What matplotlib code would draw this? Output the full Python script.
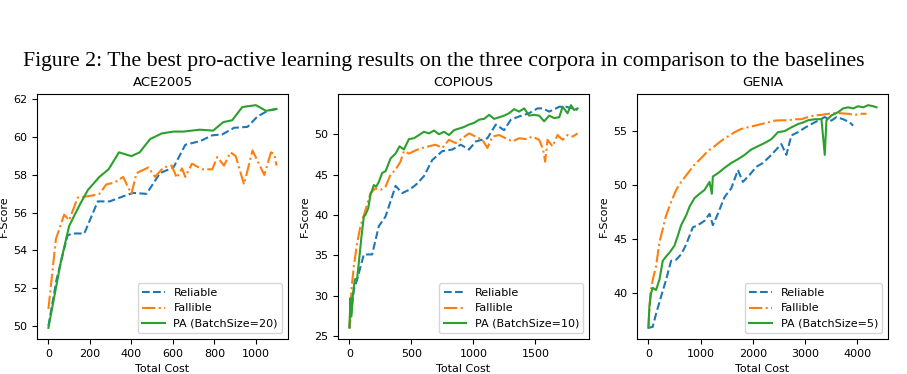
import numpy as np
import matplotlib
matplotlib.use("Agg")
import matplotlib.pyplot as plt

plt.rcParams['font.size'] = 8

# ---- ACE2005 ----
ace_pa_x = [0, 60, 100, 150, 190, 246, 290, 340, 400, 440, 490, 546, 603, 651, 730, 794, 843, 886, 935, 1000, 1049, 1100]
ace_pa_y = [49.9, 53.4, 55.3, 56.4, 57.2, 57.9, 58.3, 59.2, 59.0, 59.2, 59.9, 60.2, 60.3, 60.3, 60.4, 60.35, 60.8, 60.9, 61.6, 61.7, 61.4, 61.5]
ace_rel_x = [0, 40, 92, 117, 173, 238, 295, 368, 408, 473, 538, 603, 660, 733, 789, 838, 895, 960, 1008, 1057, 1100]
ace_rel_y = [50.0, 52.5, 54.8, 54.9, 54.9, 56.6, 56.6, 56.9, 57.05, 57.0, 58.1, 58.4, 59.6, 59.8, 60.1, 60.15, 60.5, 60.55, 61.1, 61.4, 61.5]
ace_fal_x = [0, 36, 76, 100, 141, 206, 246, 279, 319, 360, 400, 425, 482, 514, 555, 595, 619, 644, 660, 692, 741, 790,
             814, 846, 878, 903, 943, 984, 1041, 1073, 1089, 1100]
ace_fal_y = [50.9, 54.6, 55.9, 55.6, 56.8, 56.9, 57.0, 57.5, 57.6, 57.9, 57.0, 58.1, 58.4, 57.9, 58.4, 58.5, 57.85, 58.35, 57.9, 58.6, 58.3, 58.3,
             58.95, 58.5, 59.2, 59.0, 57.5, 59.3, 58.0, 59.2, 59.1, 58.5]

# ---- COPIOUS ----
cop_pa_x = [0, 8, 16, 27, 43, 62, 81, 97, 116, 129, 151, 170, 197, 216, 237, 264, 291, 332, 372, 404, 439, 480, 520, 561,
            601, 642, 682, 722, 763, 803, 844, 884, 925, 965, 1005, 1046, 1086, 1127, 1167, 1208, 1248, 1288, 1329, 1369,
            1410, 1450, 1491, 1531, 1571, 1612, 1652, 1693, 1720, 1760, 1787, 1814, 1841]
cop_pa_y = [26.0, 29.7, 27.4, 29.9, 32.0, 32.1, 34.9, 37.3, 39.8, 40.0, 40.8, 42.5, 43.7, 43.5, 44.1, 45.2, 45.4, 47.0, 47.6, 48.5, 48.1, 49.4, 49.5, 49.9,
            50.3, 50.1, 50.45, 50.0, 50.3, 49.9, 50.5, 50.7, 50.9, 51.2, 51.4, 51.8, 51.9, 52.4, 51.9, 52.1, 52.3, 52.6, 53.1, 52.8,
            53.2, 52.3, 52.4, 52.3, 51.6, 52.3, 52.0, 52.1, 53.4, 52.6, 53.6, 53.0, 53.2]
cop_rel_x = [0, 35, 62, 116, 183, 237, 291, 345, 372, 426, 480, 534, 601, 668, 749, 830, 898, 965, 1019, 1113, 1181, 1248,
             1302, 1369, 1450, 1518, 1558, 1612, 1693, 1747, 1801, 1841]
cop_rel_y = [26.0, 30.7, 32.0, 35.1, 35.1, 38.6, 39.8, 42.3, 43.6, 42.7, 43.1, 43.7, 44.8, 46.8, 47.9, 48.1, 48.7, 48.1, 49.1, 49.5, 51.2, 50.5,
             51.8, 52.2, 52.6, 53.2, 53.2, 52.8, 53.4, 53.4, 53.2, 53.0]
cop_fal_x = [0, 16, 35, 62, 89, 129, 170, 210, 251, 291, 332, 372, 412, 439, 480, 534, 588, 642, 695, 749, 803, 857, 911, 965,
             1019, 1073, 1113, 1154, 1208, 1261, 1315, 1369, 1423, 1477, 1531, 1563, 1579, 1598, 1639, 1679, 1720, 1760, 1801, 1841]
cop_fal_y = [26.0, 30.7, 33.6, 36.5, 38.6, 40.6, 42.7, 43.3, 43.1, 43.5, 45.0, 45.6, 46.6, 47.9, 47.6, 48.0, 48.3, 48.5, 48.7, 48.3, 49.3, 48.9, 49.5, 50.1,
             49.7, 49.3, 48.3, 49.7, 49.9, 49.5, 49.1, 49.5, 49.4, 49.7, 49.3, 48.1, 46.6, 49.3, 48.5, 49.9, 49.3, 49.9, 49.7, 50.1]

# ---- GENIA ----
gen_pa_x = [0, 19, 51, 83, 147, 211, 275, 339, 403, 499, 563, 627, 723, 787, 883, 979, 1075, 1171, 1216, 1235, 1331, 1459,
            1587, 1715, 1843, 1971, 2099, 2227, 2355, 2483, 2611, 2739, 2867, 2963, 3059, 3187, 3315, 3379, 3411, 3507,
            3635, 3731, 3827, 3923, 4019, 4115, 4211, 4307, 4371]
gen_pa_y = [36.8, 38.75, 40.0, 40.5, 40.3, 41.25, 43.0, 43.4, 43.75, 44.4, 45.3, 46.3, 47.2, 48.0, 48.8, 49.2, 49.55, 50.3, 49.2, 50.8, 51.1, 51.6,
            52.05, 52.4, 52.8, 53.3, 53.6, 53.9, 54.25, 54.9, 55.0, 55.35, 55.65, 55.8, 56.0, 56.1, 56.1, 52.8, 56.0, 56.45,
            56.75, 57.1, 57.2, 57.1, 57.3, 57.2, 57.4, 57.3, 57.2]
gen_rel_x = [0, 83, 147, 243, 339, 435, 531, 627, 723, 851, 947, 1075, 1171, 1235, 1331, 1459, 1587, 1715, 1811, 1939, 2067,
             2195, 2355, 2547, 2643, 2739, 2867, 2995, 3123, 3251, 3379, 3507, 3603, 3731, 3859, 3923]
gen_rel_y = [36.8, 36.9, 38.1, 39.7, 41.25, 43.0, 43.1, 43.6, 44.5, 46.1, 46.3, 46.7, 47.35, 46.3, 47.35, 48.9, 49.7, 51.4, 50.3, 50.95, 51.7,
             52.05, 52.8, 53.8, 52.8, 54.6, 54.9, 55.3, 55.65, 55.97, 56.3, 55.97, 56.3, 56.1, 55.8, 55.5]
gen_fal_x = [0, 38, 83, 147, 211, 275, 339, 435, 531, 627, 755, 883, 1011, 1139, 1267, 1395, 1523, 1651, 1779, 1907, 2035,
             2163, 2291, 2419, 2547, 2675, 2803, 2931, 3059, 3187, 3315, 3443, 3571, 3699, 3827, 3955, 4083, 4179]
gen_fal_y = [36.8, 40.0, 41.25, 42.5, 44.7, 45.95, 47.2, 48.45, 49.55, 50.3, 51.1, 51.9, 52.5, 53.15, 53.6, 54.1, 54.5, 54.9, 55.2, 55.35, 55.5,
             55.65, 55.8, 55.97, 56.0, 56.0, 56.1, 56.1, 56.3, 56.45, 56.5, 56.6, 56.65, 56.65, 56.6, 56.5, 56.6, 56.6]

titles = ["ACE2005", "COPIOUS", "GENIA"]
batch_sizes = [20, 10, 5]
panels = [
    (ace_rel_x, ace_rel_y, ace_fal_x, ace_fal_y, ace_pa_x, ace_pa_y),
    (cop_rel_x, cop_rel_y, cop_fal_x, cop_fal_y, cop_pa_x, cop_pa_y),
    (gen_rel_x, gen_rel_y, gen_fal_x, gen_fal_y, gen_pa_x, gen_pa_y),
]
lefts = [0.0408, 0.3727, 0.7023]

fig = plt.figure(figsize=(9.07, 3.74), dpi=100)

for i, (rx, ry, fx, fy, px, py) in enumerate(panels):
    ax = fig.add_axes([lefts[i], 0.0936, 0.2767, 0.655])
    ax.plot(rx, ry, color='C0', linestyle='--', label='Reliable')
    ax.plot(fx, fy, color='C1', linestyle='-.', label='Fallible')
    ax.plot(px, py, color='C2', linestyle='-', label='PA (BatchSize=%d)' % batch_sizes[i])
    ax.set_title(titles[i], fontsize=9.5)
    ax.set_xlabel('Total Cost')
    ax.set_ylabel('F-Score', labelpad=3)
    ax.legend(loc='lower right')

fig.text(0.4895, 0.835, "Figure 2: The best pro-active learning results on the three corpora in comparison to the baselines",
         ha='center', va='center', family='Liberation Serif', fontsize=15.7)

fig.savefig('out.png', dpi=100)
